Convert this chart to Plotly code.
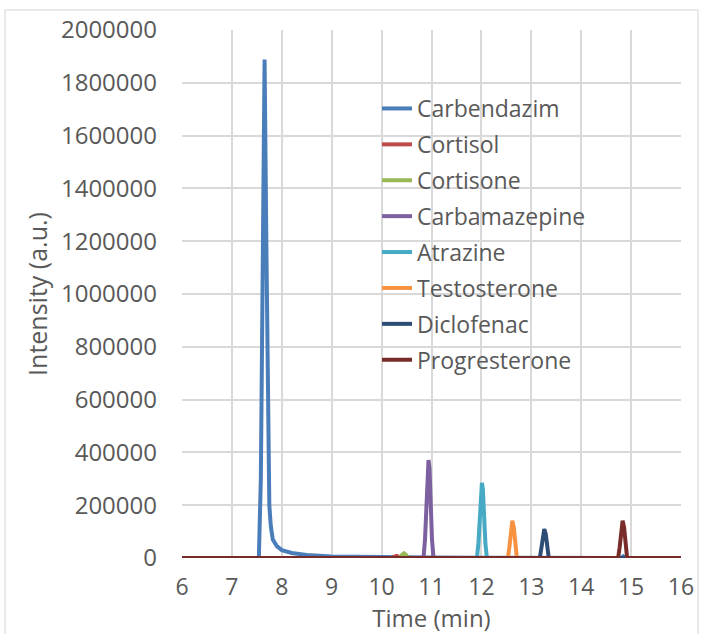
import plotly.graph_objects as go

# ---- data ----
carbendazim_t = [6.0, 7.50, 7.54, 7.58, 7.62, 7.655, 7.69, 7.72, 7.75, 7.78, 7.82, 7.90, 8.00, 8.20, 8.50, 9.00, 9.50, 10.00, 11.00, 12.00, 14.00, 14.80, 14.84, 14.88, 16.0]
carbendazim_y = [0, 0, 0, 300000, 1200000, 1888000, 1200000, 500000, 200000, 120000, 70000, 45000, 30000, 19000, 11000, 6000, 4000, 2500, 1500, 1000, 500, 0, 6000, 0, 0]

cortisol_t = [6.0, 10.20, 10.26, 10.30, 10.34, 10.40, 16.0]
cortisol_y = [0, 0, 5000, 8000, 5000, 0, 0]

cortisone_t = [6.0, 10.36, 10.41, 10.45, 10.49, 10.54, 16.0]
cortisone_y = [0, 0, 12000, 18000, 12000, 0, 0]

carbamazepine_t = [6.0, 10.84, 10.87, 10.90, 10.92, 10.94, 10.96, 10.98, 11.01, 11.04, 16.0]
carbamazepine_y = [0, 0, 70000, 220000, 340000, 371000, 340000, 220000, 70000, 0, 0]

atrazine_t = [6.0, 11.91, 11.94, 11.97, 11.99, 12.01, 12.03, 12.05, 12.08, 12.11, 16.0]
atrazine_y = [0, 0, 55000, 170000, 260000, 285000, 260000, 170000, 55000, 0, 0]

testosterone_t = [6.0, 12.53, 12.56, 12.59, 12.62, 12.65, 12.68, 12.71, 16.0]
testosterone_y = [0, 0, 40000, 115000, 141000, 115000, 40000, 0, 0]

diclofenac_t = [6.0, 13.17, 13.20, 13.23, 13.26, 13.29, 13.32, 13.35, 16.0]
diclofenac_y = [0, 0, 35000, 90000, 110000, 90000, 35000, 0, 0]

progresterone_t = [6.0, 14.74, 14.77, 14.80, 14.83, 14.86, 14.89, 14.92, 16.0]
progresterone_y = [0, 0, 40000, 115000, 141000, 115000, 40000, 0, 0]

series = [
    ("Carbendazim", carbendazim_t, carbendazim_y, "#4A7EBB"),
    ("Cortisol", cortisol_t, cortisol_y, "#BE4B48"),
    ("Cortisone", cortisone_t, cortisone_y, "#98B954"),
    ("Carbamazepine", carbamazepine_t, carbamazepine_y, "#7D60A0"),
    ("Atrazine", atrazine_t, atrazine_y, "#46AAC5"),
    ("Testosterone", testosterone_t, testosterone_y, "#F69240"),
    ("Diclofenac", diclofenac_t, diclofenac_y, "#2C4D75"),
    ("Progresterone", progresterone_t, progresterone_y, "#772C2A"),
]

x_ticks = [6, 7, 8, 9, 10, 11, 12, 13, 14, 15, 16]
y_ticks = [0, 200000, 400000, 600000, 800000, 1000000, 1200000, 1400000, 1600000, 1800000, 2000000]

FONT = "Open Sans"
TXT = "#595959"

fig = go.Figure()
for i, (name, t, y, c) in enumerate(series):
    fig.add_trace(go.Scatter(x=t, y=y, mode="lines", name=name,
                             legendgroup=f"g{i}",
                             line=dict(color=c, width=4)))

# plot area in px: x 182..681, y 30..558 ; figure 710x634
L, R, T, B = 182, 29, 30, 76
W, H = 710, 634
pw, ph = W - L - R, H - T - B

def px(x):
    return (x - L) / pw

def py(y):
    return (H - B - y) / ph

fig.update_layout(
    width=W, height=H,
    margin=dict(l=L, r=R, t=T, b=B, autoexpand=False),
    paper_bgcolor="white", plot_bgcolor="white",
    font=dict(family=FONT, color=TXT, size=22),
    showlegend=True,
    legend=dict(x=px(377), y=py(87), xanchor="left", yanchor="top",
                bgcolor="rgba(0,0,0,0)", font=dict(size=23, color=TXT),
                tracegroupgap=3, itemwidth=30),
    xaxis=dict(range=[6, 16], tickvals=x_ticks, ticktext=[str(v) for v in x_ticks],
               showgrid=True, gridcolor="#D9D9D9", gridwidth=1.5,
               zeroline=False, showline=False, ticks="",
               ticklabelstandoff=13,
               tickfont=dict(size=23, color=TXT, family=FONT),
               title=dict(text="Time (min)", font=dict(size=24, color=TXT, family=FONT), standoff=3)),
    yaxis=dict(range=[0, 2000000], tickvals=y_ticks, ticktext=[str(v) for v in y_ticks],
               showgrid=True, gridcolor="#D9D9D9", gridwidth=1.5,
               zeroline=False, showline=False, ticks="",
               ticklabelstandoff=24,
               tickfont=dict(size=24, color=TXT, family=FONT),
               title=dict(text="Intensity (a.u.)", font=dict(size=25, color=TXT, family=FONT), standoff=6)),
)

# faint outer chart border
fig.add_shape(type="rect", xref="paper", yref="paper",
              x0=px(5), x1=px(698), y0=py(645), y1=py(10),
              line=dict(color="#E3E3E3", width=1.5), layer="below")

fig.write_html("out.html")
